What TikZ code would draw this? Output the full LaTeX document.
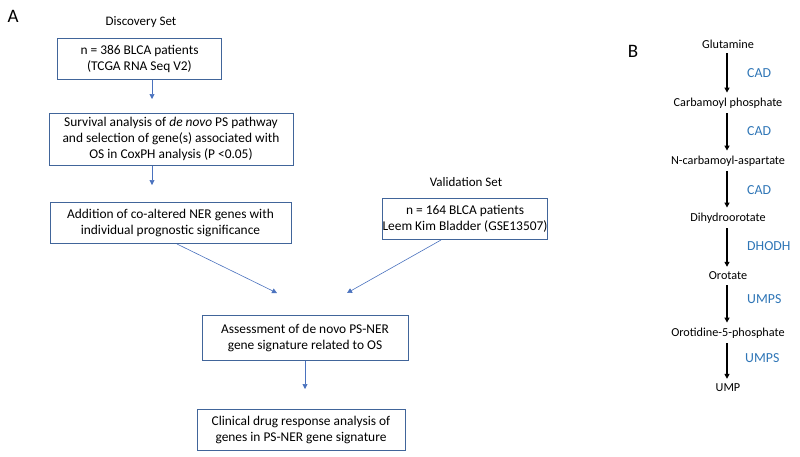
\documentclass[tikz,border=0pt]{standalone}
\usepackage{fontspec}
\setmainfont{Carlito}
\usetikzlibrary{arrows.meta,calc}
\definecolor{boxc}{HTML}{41659A}
\definecolor{arrc}{HTML}{4A72BE}
\definecolor{enz}{HTML}{2E75B6}
\begin{document}
\begin{tikzpicture}[x=1pt,y=-1pt,
  flowbox/.style={draw=boxc,line width=1pt,rectangle,align=center,inner sep=0pt,font=\fontsize{13.4}{16}\selectfont},
  arr/.style={draw=arrc,line width=0.6pt,-{Triangle[length=5pt,width=5pt]}},
  met/.style={font=\fontsize{12.2}{14}\selectfont,inner sep=5pt},
  enzl/.style={font=\fontsize{13.8}{14}\selectfont,text=enz,anchor=west,inner sep=0pt},
  barr/.style={draw=black,line width=1.3pt,-{Triangle[length=5pt,width=5pt]}}]
\useasboundingbox (0,0) rectangle (800,456);
% labels
\node[font=\fontsize{19}{20}\selectfont] (lA) at (13,16) {A};
\node[font=\fontsize{19}{20}\selectfont] (lB) at (633,51) {B};
\node[font=\fontsize{13}{16}\selectfont] (disc) at (141,22) {Discovery Set};
\node[font=\fontsize{13}{16}\selectfont] (vals) at (466,182) {Validation Set};
% boxes
\node[flowbox,minimum width=164pt,minimum height=41pt] (b1) at (139.5,58.5) {n = 386 BLCA patients\\(TCGA RNA Seq V2)};
\node[flowbox,minimum width=244pt,minimum height=52pt] (b2) at (171,139) {Survival analysis of \textit{de novo} PS pathway\\and selection of gene(s) associated with\\OS in CoxPH analysis (P {<}0.05)};
\node[flowbox,minimum width=241pt,minimum height=41pt] (b3) at (170.5,223) {Addition of co-altered NER genes with\\individual prognostic significance};
\node[flowbox,minimum width=165pt,minimum height=41pt] (bv) at (465,219) {n = 164 BLCA patients\\Leem Kim Bladder (GSE13507)};
\node[flowbox,minimum width=206pt,minimum height=45pt] (b4) at (305,338) {Assessment of de novo PS-NER\\gene signature related to OS};
\node[flowbox,minimum width=208pt,minimum height=41pt] (b5) at (301,429.5) {Clinical drug response analysis of\\genes in PS-NER gene signature};
% arrow end points
\coordinate (t1) at (152,99);
\coordinate (t2) at (152,185);
\coordinate (s3) at (177,0);
\coordinate (t3) at (277,293);
\coordinate (sv) at (441,0);
\coordinate (tv) at (347,293);
\coordinate (t4) at (305,389);
\draw[arr] (b1.south -| t1) -- (t1);
\draw[arr] (b2.south -| t2) -- (t2);
\draw[arr] (b3.south -| s3) -- (t3);
\draw[arr] (bv.south -| sv) -- (tv);
\draw[arr] (b4.south -| t4) -- (t4);
% panel B
\node[met] (m1) at (728,44) {Glutamine};
\node[met] (m2) at (728,103) {Carbamoyl phosphate};
\node[met] (m3) at (728,161) {N-carbamoyl-aspartate};
\node[met] (m4) at (728,218) {Dihydroorotate};
\node[met] (m5) at (728,276) {Orotate};
\node[met] (m6) at (728,333) {Orotidine-5-phosphate};
\node[met] (m7) at (728,388) {UMP};
\foreach \a/\b in {m1/m2,m2/m3,m3/m4,m4/m5,m5/m6,m6/m7}{
  \draw[barr] ($(\a.south)+(-1,0)$) -- ($(\b.north)+(-1,0)$);
}
\node[enzl] (e1) at (747,73) {CAD};
\node[enzl] (e2) at (747,131) {CAD};
\node[enzl] (e3) at (747,190) {CAD};
\node[enzl] (e4) at (747,246) {DHODH};
\node[enzl] (e5) at (747,299) {UMPS};
\node[enzl] (e6) at (745,358) {UMPS};
\end{tikzpicture}
\end{document}
